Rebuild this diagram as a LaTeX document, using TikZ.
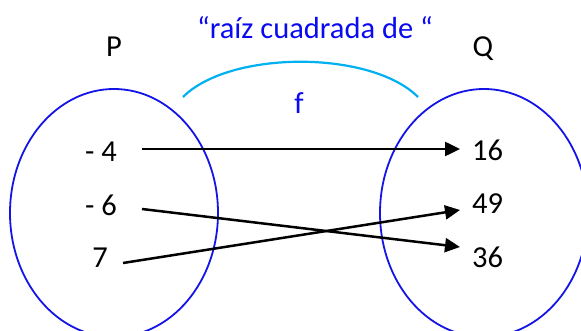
\documentclass[tikz,border=0pt]{standalone}
\usepackage{fontspec}
\setmainfont{Carlito}
\usetikzlibrary{arrows.meta}
\definecolor{setblue}{RGB}{20,20,230}
\definecolor{arccyan}{RGB}{0,176,240}
\definecolor{titleblue}{RGB}{10,10,240}
\tikzset{
  setell/.style={draw=setblue, line width=1.8pt},
  lbl/.style={inner sep=0pt, font=\fontsize{30.5}{34}\selectfont},
  maparrow/.style={line width=2.5pt, -{Triangle[length=15pt,width=14pt]}},
}
\begin{document}
\begin{tikzpicture}[x=1pt,y=-1pt]
\useasboundingbox (0,0) rectangle (581,331);
% sets
\draw[setell] (114,213) ellipse [x radius=104, y radius=124];
\draw[setell] (484,213) ellipse [x radius=104, y radius=124];
% labels
\node[lbl, anchor=base] (P) at (114,57) {P};
\node[lbl, anchor=base] (Q) at (483,57) {Q};
\node[lbl, anchor=base, text=titleblue] (title) at (315,39) {“raíz cuadrada de “};
\node[lbl, anchor=base, text=titleblue] (f) at (299,114) {f};
% arc
\coordinate (arcL) at (183,97);
\coordinate (arcR) at (418,97);
\draw[arccyan, line width=2.2pt] (arcL) .. controls (230,50) and (371,50) .. (arcR);
% elements
\node[lbl, anchor=base east] (m4) at (117,162) {- 4};
\node[lbl, anchor=base east] (m6) at (117,215) {- 6};
\node[lbl, anchor=base east] (p7) at (108,267) {7};
\node[lbl, anchor=base west] (q16) at (472,161) {16};
\node[lbl, anchor=base west] (q49) at (472,214) {49};
\node[lbl, anchor=base west] (q36) at (472,268) {36};
% connector ends
\coordinate (s4) at ([xshift=25pt,yshift=13pt]m4.base east);
\coordinate (s6) at ([xshift=25pt,yshift=6pt]m6.base east);
\coordinate (s7) at ([xshift=15pt,yshift=4pt]p7.base east);
\coordinate (e16) at ([xshift=-12pt,yshift=12pt]q16.base west);
\coordinate (e49) at ([xshift=-12pt,yshift=4pt]q49.base west);
\coordinate (e36) at ([xshift=-12pt,yshift=21pt]q36.base west);
\draw[maparrow] (s4) -- (e16);
\draw[maparrow] (s6) -- (e36);
\draw[maparrow] (s7) -- (e49);
\end{tikzpicture}
\end{document}
